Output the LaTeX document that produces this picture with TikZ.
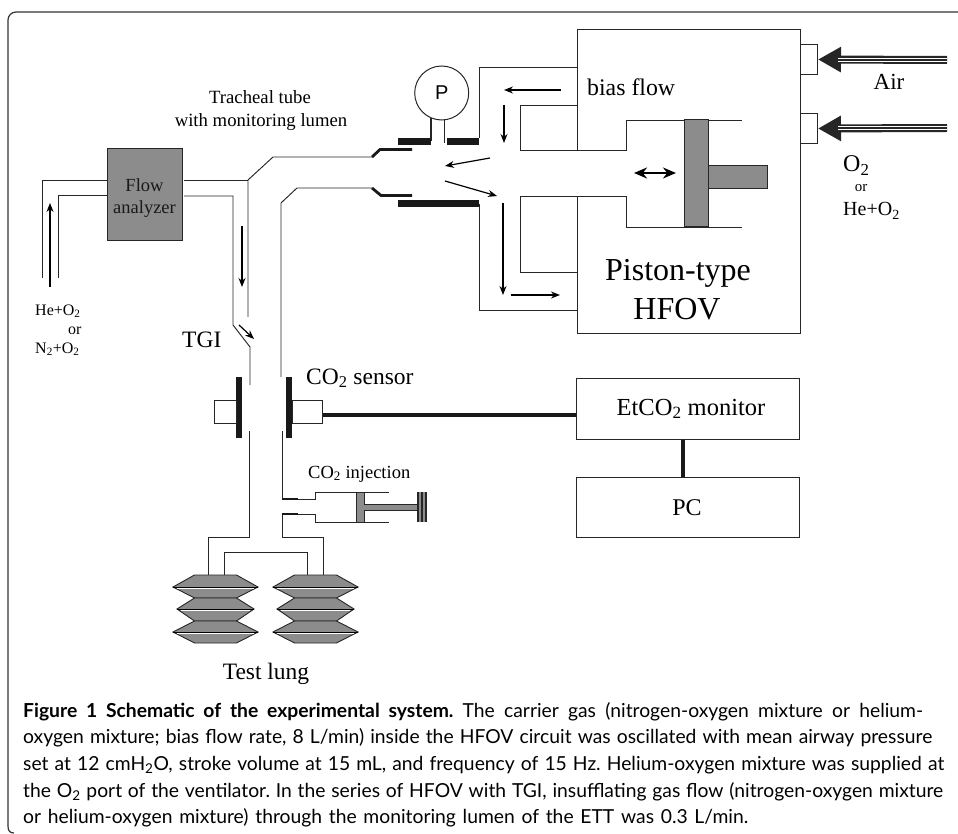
\documentclass[tikz,border=0pt]{standalone}
\usepackage{fontspec}
\setmainfont{Liberation Serif}
\newfontfamily\capfont{Lato}
\newfontfamily\gaugefont{Liberation Sans}
\usetikzlibrary{arrows.meta}
\frenchspacing
\newcommand{\fsz}[1]{\fontsize{#1}{#1}\selectfont}
\newcommand{\two}{\textsubscript{2}}
\newcommand{\capline}[2]{\makebox[#1pt][s]{\capfont\fsz{19.3}#2}}
\tikzset{
  tube/.style = {draw=black!85, line width=.95pt, line join=miter},
  heavy/.style = {draw=black!90, line width=3.6pt},
  flow/.style = {-{Stealth[length=9pt,width=7pt]}, draw=black, line width=1.2pt},
  graybox/.style = {draw=black!85, fill=black!45, line width=1pt},
  unit/.style = {draw=black!85, line width=1pt, inner sep=0pt, minimum height=61pt, minimum width=223pt, anchor=north west},
  port/.style = {draw=black!85, line width=1pt, inner sep=0pt, minimum width=17pt, minimum height=30pt, anchor=north west},
  label/.style = {inner sep=0pt, anchor=base west},
  gas/.style = {-{Triangle[length=23pt,width=24pt]}, draw=black!85, line width=8pt},
  stripe/.style = {draw=white, line width=.8pt}
}
\begin{document}
\begin{tikzpicture}[x=1pt, y=-1pt]
\useasboundingbox (0,0) rectangle (958,834);
% frame
\draw[line width=1.2pt, black!80, rounded corners=8pt] (958,12) -- (8,12) -- (8,826);
\draw[line width=1.2pt, black!80] (8,826) .. controls (8,831) and (10,833) .. (14,833);
% ventilator
\draw[tube] (577,150) -- (577,29) -- (800,29) -- (800,333) -- (577,333) -- (577,196);
\node[port] (portair) at (800,44) {};
\node[port] (portox) at (800,113) {};
\foreach \py/\pname in {60/portair, 128/portox} {
  \coordinate (feed) at (947,\py);
  \draw[gas] (feed) -- (\pname.east);
  \draw[stripe] (947,\py-1.6) -- (838,\py-1.6);
  \draw[stripe] (947,\py+1.6) -- (838,\py+1.6);
}
% circuit
\draw[tube] (479,138) -- (479,67) -- (577,67);
\draw[tube] (577,105) -- (520,105) -- (520,150) -- (626,150) -- (626,120) -- (742,120);
\draw[tube] (577,272) -- (520,272) -- (520,196) -- (626,196) -- (626,227) -- (742,227);
\draw[tube] (479,204) -- (479,310) -- (577,310);
\draw[graybox] (684,120) rectangle (708,227);
\draw[graybox] (708,166) rectangle (767,189);
\draw[draw=black, line width=2pt, {Stealth[length=13pt,width=11pt]}-{Stealth[length=13pt,width=11pt]}] (634,173) -- (676,173);
% gauge
\node[draw=black!85, line width=1pt, circle, minimum size=54pt, inner sep=0pt, font=\gaugefont\fsz{20}] (gauge) at (441.7,93) {P};
\draw[tube, line width=1.4pt] (431,118) -- (431,141);
\draw[tube, line width=1.4pt] (444.5,120) -- (444.5,143);
% tube ends
\fill[black!90] (398,138.5) rectangle (431,145);
\fill[black!90] (447,138.5) rectangle (479,145);
\fill[black!90] (398,200.5) rectangle (479,207.5);
\draw[black!90, line width=2.8pt] (372,157) -- (380,149.5) -- (412,149.5);
\draw[black!90, line width=2.8pt] (372,188) -- (381,195.5) -- (412,195.5);
% tracheal tube
\draw[tube] (372,157) -- (273,157) -- (248,180) -- (248,317);
\draw[tube] (372,188) -- (297,188) -- (281,203) -- (281,377);
\draw[tube] (184,180) -- (248,180);
\draw[tube] (184,196) -- (233,196) -- (233,325) -- (250,347) -- (250,385);
% flow analyzer
\node[graybox, minimum width=75pt, minimum height=92pt, inner sep=0pt] (analyzer) at (144.5,195) {};
\node[font=\fsz{18.5}, inner sep=0pt, anchor=base, text=black!90] (flowtxt) at (144.5,191.5) {Flow};
\node[font=\fsz{18.5}, inner sep=0pt, anchor=base, text=black!90] (analyzertxt) at (144.5,213.5) {analyzer};
\draw[tube] (42,278) -- (42,180) -- (107,180);
\draw[tube] (58,278) -- (58,195) -- (107,195);
% sensor
\fill[black!90] (236,377) rectangle (242,438);
\fill[black!90] (286,377) rectangle (292,438);
\node[draw=black!85, line width=1pt, inner sep=0pt, minimum width=22pt, minimum height=23pt, anchor=north west] (sensorL) at (214,400) {};
\node[draw=black!85, line width=1pt, inner sep=0pt, minimum width=30pt, minimum height=23pt, anchor=north west] (sensorR) at (292,400) {};
% monitor, PC
\node[unit] (monitor) at (576,378) {};
\node[unit, minimum height=60pt] (pc) at (576,477) {};
\coordinate (monitorin) at (576,415);
\draw[heavy] (sensorR.east |- monitorin) -- (monitorin);
\draw[heavy] (monitor.south -| 683,0) -- (pc.north -| 683,0);
% lower tube
\draw[tube] (249,431) -- (249,537) -- (208,537) -- (208,575);
\draw[tube] (282,431) -- (282,499) -- (315,499) -- (315,492) -- (389,492);
\draw[tube] (282,514) -- (315,514) -- (315,522) -- (389,522);
\draw[tube] (282,514) -- (282,537) -- (323,537) -- (323,575);
\draw[tube] (224,575) -- (224,552) -- (307,552) -- (307,575);
\draw[black!90, line width=2.8pt] (282,499) -- (298,499);
\draw[black!90, line width=2.8pt] (282,514) -- (298,514);
% syringe
\draw[graybox] (356,492) rectangle (364,522);
\fill[black!45] (364,504) rectangle (418,510);
\draw[tube] (364,504) -- (418,504);
\draw[tube] (364,510) -- (418,510);
\fill[black!45] (418,492) rectangle (426,522);
\draw[tube, line width=1.3pt] (418,492) -- (418,522);
\draw[tube, line width=1.3pt] (422,492) -- (422,522);
\draw[tube, line width=1.3pt] (426,492) -- (426,522);
% lungs
\foreach \cx in {215.5,315.5} {
  \foreach \ya/\yb/\yc/\hw in {575/587/598/42.5, 598/609/621/38.5, 621/632/643/42.5} {
    \draw[graybox, line width=.9pt] (\cx-21,\ya) -- (\cx+21,\ya) -- (\cx+\hw,\yb) -- (\cx+21,\yc) -- (\cx-21,\yc) -- (\cx-\hw,\yb) -- cycle;
    \draw[black, line width=1pt] (\cx-\hw,\yb) -- (\cx+\hw,\yb);
    \draw[white, line width=.7pt] (\cx-\hw+4,\yb+1.2) -- (\cx+\hw-4,\yb+1.2);
  }
}
% flow arrows
\draw[flow] (561,90) -- (504,90);
\draw[flow] (504,105) -- (504,143);
\draw[flow] (490,158) -- (445,166);
\draw[flow] (445,181) -- (497,196);
\draw[flow] (503,203) -- (503,295);
\draw[flow] (511,295) -- (560,295);
\draw[flow] (50,287) -- (50,203);
\draw[flow] (242,226) -- (242,287);
\draw[flow] (239,325) -- (254,339);
% labels
\node[label, font=\fsz{23.8}] (biastxt) at (587,96) {bias flow};
\node[font=\fsz{32}, inner sep=0pt, anchor=base] (pistontxt) at (678,280) {Piston-type};
\node[font=\fsz{32}, inner sep=0pt, anchor=base] (hfovtxt) at (677,319) {HFOV};
\node[font=\fsz{23}, inner sep=0pt, anchor=base] (airtxt) at (889,90) {Air};
\node[label, font=\fsz{24}] (oxtxt) at (843,172) {O\two};
\node[font=\fsz{15}, inner sep=0pt, anchor=base] (oxortxt) at (861,192) {or};
\node[label, font=\fsz{20}] (heoxtxt) at (843,216) {He+O\two};
\node[font=\fsz{18.7}, inner sep=0pt, anchor=base] (tubetxt) at (260,104) {Tracheal tube};
\node[font=\fsz{18.7}, inner sep=0pt, anchor=base] (lumentxt) at (261,127) {with monitoring lumen};
\node[label, font=\fsz{16}] (hetxt) at (35,315) {He+O\two};
\node[label, font=\fsz{16}] (orgastxt) at (68,334) {or};
\node[label, font=\fsz{16}] (ntxt) at (35,353) {N\two+O\two};
\node[label, font=\fsz{23.5}] (tgitxt) at (182,347) {TGI};
\node[label, font=\fsz{23.5}] (sensortxt) at (306,384) {CO\two{} sensor};
\node[label, font=\fsz{18.5}] (injecttxt) at (308,478) {CO\two{} injection};
\node[font=\fsz{24.5}, inner sep=0pt, anchor=base] (montxt) at (691,415) {EtCO\two{} monitor};
\node[font=\fsz{24}, inner sep=0pt, anchor=base] (pctxt) at (687,515) {PC};
\node[font=\fsz{23.5}, inner sep=0pt, anchor=base] (lungtxt) at (266,679) {Test lung};
% caption
\node[label] (cap1) at (23,717) {\capline{900}{\textbf{Figure 1 Schematic of the experimental system.} The carrier gas (nitrogen-oxygen mixture or helium-}};
\node[label] (cap2) at (23,743.7) {\capline{909}{oxygen mixture; bias flow rate, 8 L/min) inside the HFOV circuit was oscillated with mean airway pressure}};
\node[label] (cap3) at (23,770.3) {\capline{921}{set at 12 cmH\two{}O, stroke volume at 15 mL, and frequency of 15 Hz. Helium-oxygen mixture was supplied at}};
\node[label] (cap4) at (23,797) {\capline{920}{the O\two{} port of the ventilator. In the series of HFOV with TGI, insufflating gas flow (nitrogen-oxygen mixture}};
\node[label] (cap5) at (23,823.7) {\capline{725}{or helium-oxygen mixture) through the monitoring lumen of the ETT was 0.3 L/min.}};
\end{tikzpicture}
\end{document}
